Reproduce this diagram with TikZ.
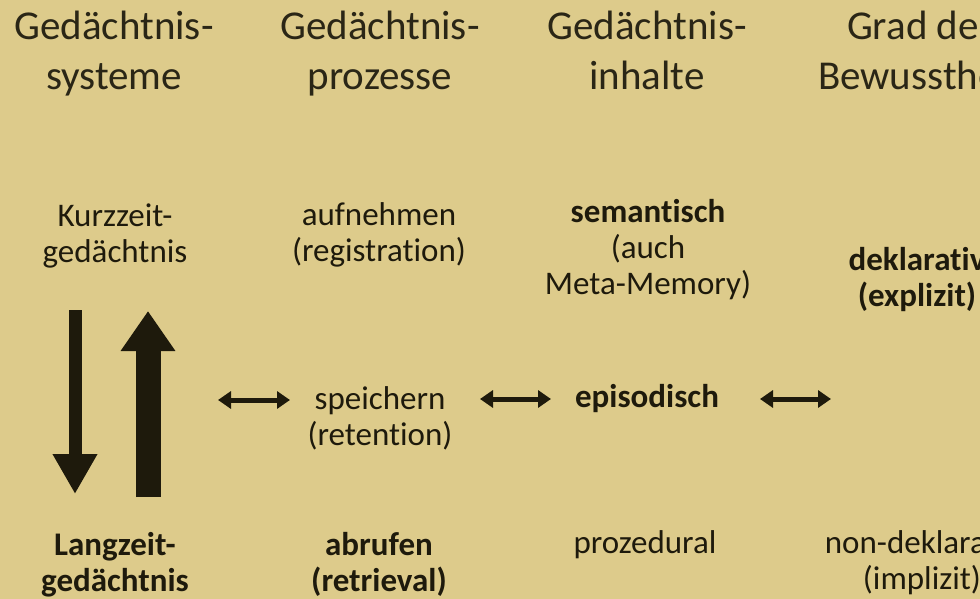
\documentclass[tikz,border=0pt]{standalone}
\usepackage{fontspec}
\setmainfont{Carlito}[Ligatures=NoCommon]
\usetikzlibrary{arrows.meta}
\definecolor{bg}{HTML}{DDCB8B}
\definecolor{ink}{HTML}{1E1A0C}
\definecolor{headink}{HTML}{2A2616}
\begin{document}
\begin{tikzpicture}[x=1pt,y=-1pt,
  head/.style={text=headink,align=center,anchor=base,inner sep=0pt,font=\fontsize{41}{50}\selectfont},
  body/.style={text=ink,align=center,anchor=base,inner sep=0pt,font=\fontsize{33}{36}\selectfont},
  bbody/.style={body,font=\fontsize{33}{36}\selectfont\bfseries},
  dbl/.style={draw=ink,line width=5pt,{Triangle[width=17pt,length=13pt]}-{Triangle[width=17pt,length=13pt]}}
]
\useasboundingbox (0,0) rectangle (980,599);
\clip (0,0) rectangle (980,599);
\fill[bg] (0,0) rectangle (980,599);
% headers (anchor at the baseline of the last line)
\node[head] (h1) at (114,90) {Gedächtnis-\\systeme};
\node[head] (h2) at (380,90) {Gedächtnis-\\prozesse};
\node[head] (h3) at (647,90) {Gedächtnis-\\inhalte};
\node[head] (h4) at (920,90) {Grad der\\Bewusstheit};
% row 1
\node[body] (kz) at (115,262) {Kurzzeit-\\gedächtnis};
\node[body] (auf) at (379,261) {aufnehmen\\(registration)};
\node[body] (sem) at (648,294) {\textbf{semantisch}\\(auch\\Meta-Memory)};
\node[bbody] (dek) at (917,306) {deklarativ\\(explizit)};
% middle row
\node[body] (sp) at (380,445) {speichern\\(retention)};
\node[bbody] (epi) at (647,407) {episodisch};
% bottom row
\node[bbody] (lz) at (115,591) {Langzeit-\\gedächtnis};
\node[bbody] (abr) at (379,591) {abrufen\\(retrieval)};
\node[body] (proz) at (645,553) {prozedural};
\node[body] (ndek) at (922,589) {non-deklarativ\\(implizit)};
% big vertical arrows
\coordinate (d1) at (75,310);
\coordinate (d2) at (75,494);
\coordinate (u1) at (148,497);
\coordinate (u2) at (148,311);
\draw[ink,line width=13pt,-{Triangle[width=42pt,length=40pt]}] (d1) -- (d2);
\draw[ink,line width=25pt,-{Triangle[width=52pt,length=40pt]}] (u1) -- (u2);
% double arrows
\coordinate (a1) at (218,400); \coordinate (a2) at (290,400);
\coordinate (b1) at (480,399); \coordinate (b2) at (551,399);
\coordinate (c1) at (760,399); \coordinate (c2) at (831,399);
\draw[dbl] (a1) -- (a2);
\draw[dbl] (b1) -- (b2);
\draw[dbl] (c1) -- (c2);
\end{tikzpicture}
\end{document}
